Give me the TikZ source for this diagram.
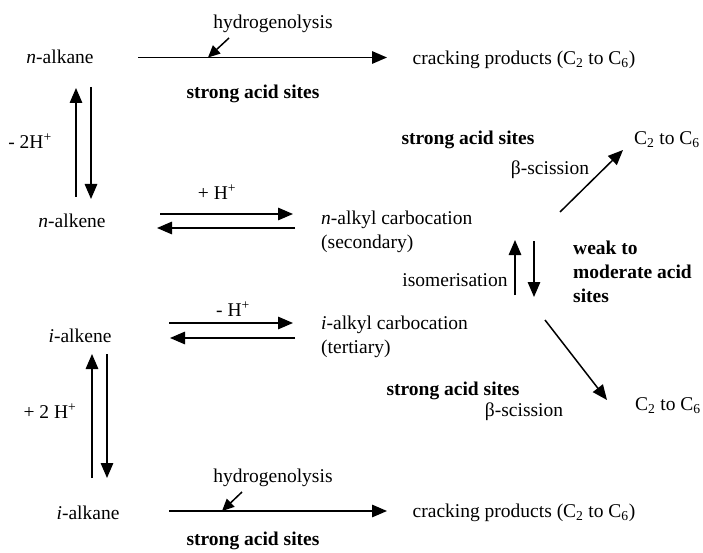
\documentclass[tikz,border=0pt]{standalone}
\usepackage{fontspec}
\setmainfont{Liberation Serif}
\usetikzlibrary{arrows.meta}

\tikzset{
  species/.style={inner sep=0pt},
  label/.style={inner sep=0pt},
  sites/.style={inner sep=0pt, font=\fontsize{19.5}{24}\selectfont\bfseries},
  rxn/.style={line width=1.5pt, -{Triangle[length=15pt,width=12.5pt]}},
  hint/.style={line width=1.5pt, -{Triangle[length=12pt,width=11pt]}},
  bare/.style={line width=1.5pt}
}

\begin{document}
\begin{tikzpicture}[x=1pt, y=-1pt, font=\fontsize{19.5}{24}\selectfont]
        \useasboundingbox (0,0) rectangle (703,553);

        % species
        \node[species] (nalkane) at (60,57) {\textit{n}-alkane};
        \node[species] (nalkene) at (72,221) {\textit{n}-alkene};
        \node[species] (ialkene) at (80,336) {\textit{i}-alkene};
        \node[species] (ialkane) at (88,513) {\textit{i}-alkane};
        \node[species, anchor=west, align=left] (ncat) at (321,232) {\textit{n}-alkyl carbocation\\(secondary)};
        \node[species, anchor=west, align=left] (icat) at (321,337) {\textit{i}-alkyl carbocation\\(tertiary)};
        \node[species] (crack1) at (524,60) {cracking products (C\textsubscript{2} to C\textsubscript{6})};
        \node[species] (crack2) at (524,513) {cracking products (C\textsubscript{2} to C\textsubscript{6})};
        \node[species] (frag1) at (667,140) {C\textsubscript{2} to C\textsubscript{6}};
        \node[species] (frag2) at (668,406) {C\textsubscript{2} to C\textsubscript{6}};

        % labels
        \node[label] (hyd1) at (273,24) {hydrogenolysis};
        \node[label] (hyd2) at (273,478) {hydrogenolysis};
        \node[label] (dehyd) at (30,141) {- 2H\textsuperscript{+}};
        \node[label] (hydr) at (50,411) {+ 2 H\textsuperscript{+}};
        \node[label] (proton) at (217,192) {+ H\textsuperscript{+}};
        \node[label] (deproton) at (233,309) {- H\textsuperscript{+}};
        \node[label] (iso) at (455,280) {isomerisation};
        \node[label] (beta1) at (550,170) {β-scission};
        \node[label] (beta2) at (524,412) {β-scission};

        % acid sites
        \node[sites] (sites1) at (253,94) {strong acid sites};
        \node[sites] (sites2) at (468,140) {strong acid sites};
        \node[sites] (sites3) at (453,391) {strong acid sites};
        \node[sites] (sites4) at (253,541) {strong acid sites};
        \node[sites, anchor=west, align=left] (sites5) at (573,272) {weak to\\moderate acid\\sites};

        % arrow ends
        \coordinate (h1-s) at (138,57.5);  \coordinate (h1-e) at (387,57.5);
        \coordinate (h1-t) at (229,38);    \coordinate (h1-p) at (208,57.5);
        \coordinate (h2-s) at (169,511);   \coordinate (h2-e) at (387,511);
        \coordinate (h2-t) at (242,492);   \coordinate (h2-p) at (222,511);
        \coordinate (nv1-s) at (76,197);   \coordinate (nv1-e) at (76,88);
        \coordinate (nv2-s) at (91,87);    \coordinate (nv2-e) at (91,199);
        \coordinate (iv1-s) at (92,478);   \coordinate (iv1-e) at (92,354);
        \coordinate (iv2-s) at (107,354);  \coordinate (iv2-e) at (107,478);
        \coordinate (nh1-s) at (160,214);  \coordinate (nh1-e) at (293,214);
        \coordinate (nh2-s) at (295,228);  \coordinate (nh2-e) at (157,228);
        \coordinate (ih1-s) at (169,323);  \coordinate (ih1-e) at (293,323);
        \coordinate (ih2-s) at (295,338);  \coordinate (ih2-e) at (170,338);
        \coordinate (is1-s) at (515,295);  \coordinate (is1-e) at (515,240);
        \coordinate (is2-s) at (534,241);  \coordinate (is2-e) at (534,297);
        \coordinate (b1-s) at (560,212);   \coordinate (b1-e) at (623,150);
        \coordinate (b2-s) at (545,320);   \coordinate (b2-e) at (607,400);

        % hydrogenolysis
        \draw[rxn] (h1-s) -- (h1-e);
        \draw[hint] (h1-t) -- (h1-p);
        \draw[rxn] (h2-s) -- (h2-e);
        \draw[hint] (h2-t) -- (h2-p);

        % (de)hydrogenation
        \draw[rxn] (nv1-s) -- (nv1-e);
        \draw[rxn] (nv2-s) -- (nv2-e);
        \draw[rxn] (iv1-s) -- (iv1-e);
        \draw[rxn] (iv2-s) -- (iv2-e);

        % protonation
        \draw[rxn] (nh1-s) -- (nh1-e);
        \draw[rxn] (nh2-s) -- (nh2-e);
        \draw[rxn] (ih1-s) -- (ih1-e);
        \draw[rxn] (ih2-s) -- (ih2-e);

        % isomerisation and beta-scission
        \draw[rxn] (is1-s) -- (is1-e);
        \draw[rxn] (is2-s) -- (is2-e);
        \draw[rxn] (b1-s) -- (b1-e);
        \draw[rxn] (b2-s) -- (b2-e);
\end{tikzpicture}
\end{document}
